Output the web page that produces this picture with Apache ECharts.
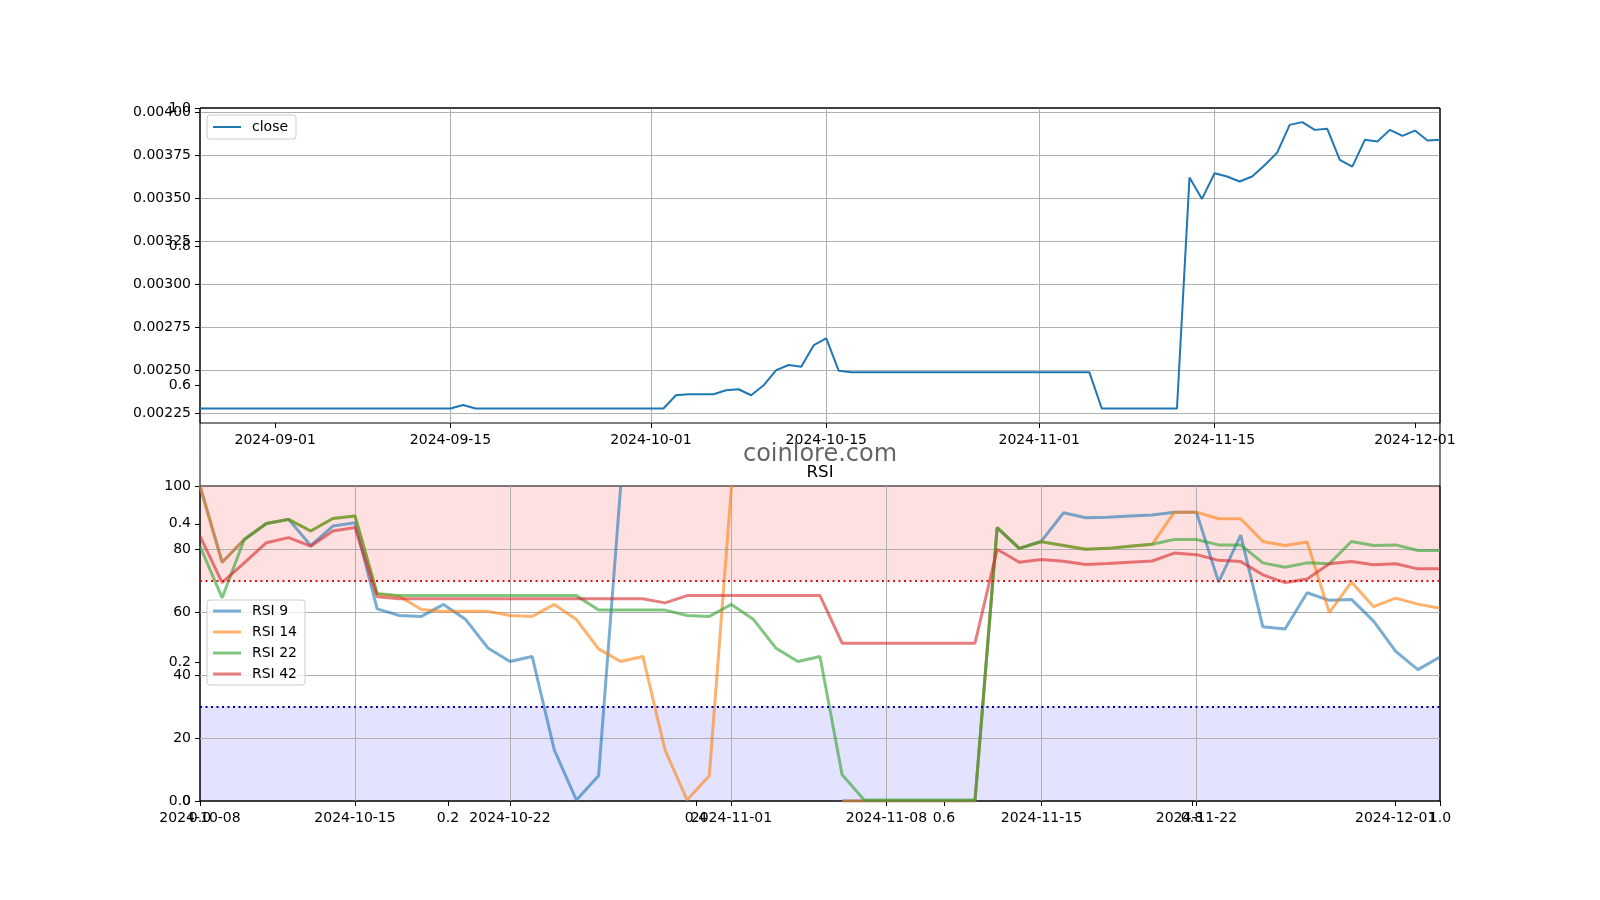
<!DOCTYPE html>
<html>
<head>
<meta charset="utf-8">
<script src="https://cdn.jsdelivr.net/npm/echarts@6/dist/echarts.min.js"></script>
<style>html,body{margin:0;padding:0;background:#fff}#c{width:1600px;height:900px}</style>
</head>
<body>
<div id="c"></div>
<script>
function dayList(start, n) {
  const out = [];
  const t0 = Date.UTC(+start.slice(0, 4), +start.slice(5, 7) - 1, +start.slice(8, 10));
  for (let i = 0; i < n; i++) out.push(new Date(t0 + i * 86400000).toISOString().slice(0, 10));
  return out;
}

// categories
const closeDates = dayList('2024-08-26', 100);
const rsiDates = dayList('2024-10-08', 57);

// tick labels
const closeTickLabels = ['2024-09-01', '2024-09-15', '2024-10-01', '2024-10-15', '2024-11-01', '2024-11-15', '2024-12-01'];
const rsiTickLabels = ['2024-10-08', '2024-10-15', '2024-10-22', '2024-11-01', '2024-11-08', '2024-11-15', '2024-11-22', '2024-12-01'];
const closeAxisTicks = [0.00225, 0.0025, 0.00275, 0.003, 0.00325, 0.0035, 0.00375, 0.004];

// close price
const closeValues = [
  0.00228, 0.00228, 0.00228, 0.00228, 0.00228, 0.00228, 0.00228, 0.00228, 0.00228, 0.00228,
  0.00228, 0.00228, 0.00228, 0.00228, 0.00228, 0.00228, 0.00228, 0.00228, 0.00228, 0.00228,
  0.00228, 0.00230, 0.00228, 0.00228, 0.00228, 0.00228, 0.00228, 0.00228, 0.00228, 0.00228,
  0.00228, 0.00228, 0.00228, 0.00228, 0.00228, 0.00228, 0.00228, 0.00228, 0.002357, 0.002363,
  0.002363, 0.002363, 0.002386, 0.002392, 0.002357, 0.002415, 0.002503, 0.002533, 0.002522, 0.002648,
  0.002687, 0.002499, 0.002491, 0.002491, 0.002491, 0.002491, 0.002491, 0.002491, 0.002491, 0.002491,
  0.002491, 0.002491, 0.002491, 0.002491, 0.002491, 0.002491, 0.002491, 0.002491, 0.002491, 0.002491,
  0.002491, 0.002491, 0.00228, 0.00228, 0.00228, 0.00228, 0.00228, 0.00228, 0.00228, 0.003621,
  0.003497, 0.003646, 0.003627, 0.003598, 0.003627, 0.003693, 0.003766, 0.003927, 0.003943, 0.003898,
  0.003904, 0.003724, 0.003685, 0.00384, 0.00383, 0.003898, 0.003863, 0.003894, 0.003836, 0.00384
];

// RSI series
const rsi9 = [
  100, 75.8, 83.0, 88.1, 89.4, 81.1, 87.3, 88.3, 61.0, 58.9,
  58.6, 62.4, 57.6, 48.6, 44.3, 45.9, 16.2, 0.3, 8.0, 100,
  null, null, null, null, null, null, null, null, null, 0,
  0, 0, 0, 0, 0, 0, 86.8, 80.2, 82.5, 91.5,
  89.9, 90.1, 90.5, 90.8, 91.7, 91.7, 69.5, 84.4, 55.3, 54.6,
  66.1, 63.7, 64.0, 57.1, 47.5, 41.7, 45.7
];
const rsi14 = [
  100, 75.8, 83.0, 88.1, 89.4, 85.7, 89.7, 90.5, 65.6, 65.0,
  60.8, 60.2, 60.2, 60.2, 58.9, 58.6, 62.4, 57.6, 48.3, 44.3,
  45.9, 16.2, 0.3, 8.0, 100, null, null, null, null, 0,
  0, 0, 0, 0, 0, 0, 86.8, 80.2, 82.3, 81.1,
  79.9, 80.2, 80.9, 81.5, 91.7, 91.7, 89.6, 89.6, 82.4, 81.1,
  82.2, 59.8, 69.5, 61.7, 64.4, 62.5, 61.2
];
const rsi22 = [
  80.9, 64.5, 83.0, 88.1, 89.4, 85.7, 89.7, 90.5, 65.9, 65.2,
  65.2, 65.2, 65.2, 65.2, 65.2, 65.2, 65.2, 65.2, 60.6, 60.6,
  60.6, 60.6, 58.9, 58.6, 62.4, 57.6, 48.6, 44.3, 45.9, 8.3,
  0.3, 0.3, 0.3, 0.3, 0.3, 0.3, 86.8, 80.2, 82.3, 81.1,
  79.9, 80.2, 80.9, 81.5, 83.0, 83.0, 81.3, 81.3, 75.6, 74.2,
  75.6, 75.3, 82.4, 81.1, 81.3, 79.5, 79.5
];
const rsi42 = [
  84.1, 69.3, 75.6, 82.0, 83.6, 80.9, 85.7, 86.8, 64.8, 64.2,
  64.2, 64.2, 64.2, 64.2, 64.2, 64.2, 64.2, 64.2, 64.2, 64.2,
  64.2, 62.9, 65.2, 65.2, 65.2, 65.2, 65.2, 65.2, 65.2, 50.1,
  50.1, 50.1, 50.1, 50.1, 50.1, 50.1, 79.9, 75.8, 76.7, 76.1,
  75.1, 75.4, 75.8, 76.2, 78.7, 78.2, 76.4, 76.0, 71.8, 69.3,
  70.5, 75.3, 76.0, 75.0, 75.3, 73.7, 73.7
];
const rsiNames = ['RSI 9', 'RSI 14', 'RSI 22', 'RSI 42'];
const rsiColors = ['rgba(31,119,180,0.6)', 'rgba(255,127,14,0.6)', 'rgba(44,160,44,0.6)', 'rgba(214,39,40,0.6)'];

const FONT = 'DejaVu Sans';
const lbl = { fontSize: 14, color: '#000', fontFamily: FONT };
const tick = { show: true, inside: false, length: 5, lineStyle: { color: '#000', width: 1 } };
const grid = { color: '#b0b0b0', width: 1 };

const topInt = (i, v) => closeTickLabels.indexOf(v) >= 0;
const botInt = (i, v) => rsiTickLabels.indexOf(v) >= 0;

const chart = echarts.init(document.getElementById('c'), null, { renderer: 'canvas' });

const rsiSeries = [rsi9, rsi14, rsi22, rsi42].map((d, k) => ({
  name: rsiNames[k], type: 'line', xAxisIndex: 1, yAxisIndex: 1, data: d,
  symbol: 'none', showSymbol: false, connectNulls: false, color: rsiColors[k],
  itemStyle: { color: rsiColors[k] },
  lineStyle: { color: rsiColors[k], width: 3 }, z: 3
}));

const legendBase = {
  orient: 'vertical', icon: 'rect', itemWidth: 28, itemGap: 7,
  backgroundColor: 'rgba(255,255,255,0.8)', borderColor: '#cccccc', borderWidth: 1, borderRadius: 3,
  textStyle: { fontSize: 14, color: '#000', fontFamily: FONT, padding: [0, 0, 0, 6] }
};

const option = {
  animation: false,
  backgroundColor: '#fff',
  grid: [
    { left: 200, top: 108, width: 1240, height: 315, show: true, borderColor: '#000', borderWidth: 1, backgroundColor: 'transparent', outerBoundsMode: 'none' },
    { left: 200, top: 486, width: 1240, height: 315, show: true, borderColor: '#000', borderWidth: 1, backgroundColor: 'transparent', outerBoundsMode: 'none', z: 1.5 },
    { left: 200, top: 108, width: 1240, height: 693, show: true, borderColor: '#000', borderWidth: 1, backgroundColor: 'transparent', outerBoundsMode: 'none', z: 1.5 }
  ],
  xAxis: [
    { gridIndex: 0, type: 'category', data: closeDates, boundaryGap: false,
      axisLine: { show: false }, axisTick: Object.assign({}, tick, { interval: topInt }),
      axisLabel: Object.assign({}, lbl, { interval: topInt, margin: 10, showMinLabel: true, showMaxLabel: true }),
      splitLine: { show: true, interval: topInt, showMinLine: false, showMaxLine: false, lineStyle: grid } },
    { gridIndex: 1, type: 'category', data: rsiDates, boundaryGap: false, z: 1.5,
      axisLine: { show: false }, axisTick: Object.assign({}, tick, { interval: botInt }),
      axisLabel: Object.assign({}, lbl, { interval: botInt, margin: 10, showMinLabel: true, showMaxLabel: true }),
      splitLine: { show: true, interval: botInt, showMinLine: false, showMaxLine: false, lineStyle: grid } },
    { gridIndex: 2, type: 'value', min: 0, max: 1, interval: 0.2, z: 1.5,
      axisLine: { show: false }, axisTick: tick,
      axisLabel: Object.assign({}, lbl, { margin: 10, formatter: v => v.toFixed(1), showMinLabel: true, showMaxLabel: true }),
      splitLine: { show: false } }
  ],
  yAxis: [
    { gridIndex: 0, type: 'value', min: 0.002196, max: 0.004025,
      axisLine: { show: false },
      axisTick: Object.assign({}, tick, { customValues: closeAxisTicks }),
      axisLabel: Object.assign({}, lbl, { customValues: closeAxisTicks, margin: 9, formatter: v => v.toFixed(5), showMinLabel: true, showMaxLabel: true }),
      splitLine: { show: true, lineStyle: grid } },
    { gridIndex: 1, type: 'value', min: 0, max: 100, interval: 20, z: 1.5,
      axisLine: { show: false }, axisTick: tick,
      axisLabel: Object.assign({}, lbl, { margin: 9, showMinLabel: true, showMaxLabel: true }),
      splitLine: { show: true, showMinLine: false, showMaxLine: false, lineStyle: grid } },
    { gridIndex: 2, type: 'value', min: 0, max: 1, interval: 0.2, z: 1.5,
      axisLine: { show: false }, axisTick: tick,
      axisLabel: Object.assign({}, lbl, { margin: 9, formatter: v => v.toFixed(1), showMinLabel: true, showMaxLabel: true }),
      splitLine: { show: false } }
  ],
  legend: [
    Object.assign({}, legendBase, { data: ['close'], left: 207, top: 115, padding: [5, 8, 5, 6], itemHeight: 2 }),
    Object.assign({}, legendBase, { data: rsiNames, left: 207, top: 600, padding: [4, 8, 4, 6], itemHeight: 3 })
  ],
  graphic: [
    { type: 'text', x: 820, y: 455, z: 10,
      style: { text: 'coinlore.com', fill: '#666666', font: '24px "DejaVu Sans"', align: 'center', verticalAlign: 'middle', textAlign: 'center', textVerticalAlign: 'middle' } },
    { type: 'text', x: 820, y: 473, z: 10,
      style: { text: 'RSI', fill: '#000', font: '16.7px "DejaVu Sans"', align: 'center', verticalAlign: 'middle', textAlign: 'center', textVerticalAlign: 'middle' } }
  ],
  series: [
    { name: 'close', type: 'line', xAxisIndex: 0, yAxisIndex: 0, data: closeValues, symbol: 'none', showSymbol: false,
      color: '#1f77b4', itemStyle: { color: '#1f77b4' }, lineStyle: { color: '#1f77b4', width: 2 } },
    { name: 'zones', type: 'line', xAxisIndex: 1, yAxisIndex: 1, data: [], z: 1, silent: true,
      markArea: { silent: true, data: [
        [{ yAxis: 70, itemStyle: { color: 'rgba(255,0,0,0.12)' } }, { yAxis: 100 }],
        [{ yAxis: 0, itemStyle: { color: 'rgba(0,0,255,0.11)' } }, { yAxis: 30 }]
      ] } }
  ].concat(rsiSeries).concat([
    { name: 'levels', type: 'line', xAxisIndex: 1, yAxisIndex: 1, data: [], z: 4, silent: true,
      markLine: { silent: true, symbol: 'none', label: { show: false }, data: [
        { yAxis: 70, lineStyle: { color: '#e01010', width: 2, type: [2, 3.5] } },
        { yAxis: 30, lineStyle: { color: '#0000a0', width: 2, type: [2, 3.5] } }
      ] } }
  ])
};
chart.setOption(option);
</script>
</body>
</html>
